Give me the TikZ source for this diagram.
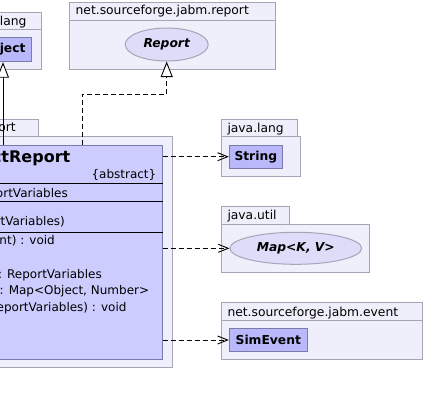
\documentclass[tikz,border=0pt]{standalone}
\usepackage{fontspec}
\setmainfont{DejaVu Sans}
\usetikzlibrary{calc,positioning,arrows.meta,shapes.geometric}
\definecolor{pkgfill}{RGB}{239,239,251}
\definecolor{pkgdraw}{RGB}{165,165,182}
\definecolor{absfill}{RGB}{204,204,255}
\definecolor{clsfill}{RGB}{184,184,250}
\definecolor{clsdraw}{RGB}{122,122,172}
\definecolor{ifcfill}{RGB}{221,221,250}
\tikzset{
  pkg/.style={draw=pkgdraw, fill=pkgfill, line width=1pt},
  pkgname/.style={inner sep=0pt, font=\fontsize{12.3}{14}\selectfont},
  cls/.style={draw=clsdraw, fill=clsfill, line width=1pt, inner sep=0pt,
    font=\fontsize{12.3}{14}\selectfont\bfseries},
  ifc/.style={ellipse, draw=pkgdraw, fill=ifcfill, line width=1pt, inner sep=0pt,
    font=\fontsize{12.3}{14}\selectfont\bfseries\itshape},
  member/.style={anchor=base east, inner sep=0pt, font=\fontsize{12}{14}\selectfont},
  dep/.style={line width=0.9pt, dash pattern=on 5pt off 3pt,
    -{Straight Barb[length=10pt,width=8pt]}},
  gen/.style={line width=0.9pt, -{Triangle[length=15.5pt,width=12pt,fill=white]}},
}

\begin{document}
\begin{tikzpicture}[x=1pt,y=-1pt]
  \useasboundingbox (0,0) rectangle (425,405);
  \clip (0,0) rectangle (425,405);
  % packages
  \draw[pkg] (-40,12.5) rectangle (41.5,29);
  \draw[pkg] (-40,29) rectangle (41.5,69);
  \node[pkgname, anchor=base east] (langpkgL) at (26.7,25) {java.lang};
  \draw[pkg] (69.3,2.5) rectangle (275,69);
  \draw[pkgdraw, line width=1pt] (69.3,20.5) -- (275,20.5);
  \node[pkgname, anchor=base west] (reportpkg) at (75.5,14.5) {net.sourceforge.jabm.report};
  \draw[pkg] (-200,119.5) rectangle (38.3,136);
  \draw[pkg] (-200,136) rectangle (172,367);
  \node[pkgname, anchor=base east] (mainpkg) at (16,131.5) {net.sourceforge.jabm.report};
  \draw[pkg] (221,119.3) rectangle (297.3,136);
  \draw[pkg] (221,136) rectangle (300.3,176);
  \node[pkgname, anchor=base west] (langpkgR) at (227.3,132.3) {java.lang};
  \draw[pkg] (221,206.7) rectangle (289.3,224.3);
  \draw[pkg] (221,224.3) rectangle (369.3,272.3);
  \node[pkgname, anchor=base west] (utilpkg) at (227.3,219.5) {java.util};
  \draw[pkg] (221,302.3) rectangle (422.3,359.3);
  \draw[pkgdraw, line width=1pt] (221,320.7) -- (422.3,320.7);
  \node[pkgname, anchor=base west] (eventpkg) at (227.3,316) {net.sourceforge.jabm.event};

  % classes
  \node[cls, minimum width=57.4pt, minimum height=24.4pt] (object) at (3,49.5) {Object};
  \node[ifc, minimum width=83pt, minimum height=33pt] (report) at (166.7,44.5) {Report};
  \node[cls, minimum width=53pt, minimum height=23.3pt] (string) at (255.8,156.7) {String};
  \node[ifc, minimum width=131.7pt, minimum height=32pt] (map) at (295.8,248.3) {Map<K, V>};
  \node[cls, minimum width=78pt, minimum height=23.4pt] (simevent) at (268.3,340) {SimEvent};

  \node[draw=clsdraw, fill=absfill, line width=1pt, minimum width=310.7pt,
    minimum height=213.5pt, inner sep=0pt] (abstractreport) at (7.35,252.25) {};
  \foreach \y in {183.3,201,232.3}
    \draw[line width=1pt] (abstractreport.west |- 0,\y) -- (abstractreport.east |- 0,\y);
  \node[member, font=\fontsize{16}{18}\selectfont\bfseries] (absname) at (70.5,162) {AbstractReport};
  \node[member] (abstag) at (156.5,178) {\{abstract\}};
  \node[member] (attr) at (68,197) {reportVariables : ReportVariables};
  \node[member] (ctor) at (65,225.8) {AbstractReport(ReportVariables)};
  \node[member] (mevent) at (55,244.5) {eventOccurred(SimEvent event) : void};
  \node[member] (mgetrv) at (102,278.3) {getReportVariables() : ReportVariables};
  \node[member] (mbind) at (149.3,294.8) {getVariableBindings() : Map<Object, Number>};
  \node[member] (msetrv) at (126.7,311) {setReportVariables(ReportVariables) : void};

  % connectors
  \coordinate (bend) at (82,94.3);
  \draw[gen] (abstractreport.north -| object.south) -- (object.south);
  \draw[gen, dash pattern=on 5pt off 3pt] (abstractreport.north -| bend) -- (bend) -| (report.south);
  \draw[dep] (abstractreport.east |- string.west) -- (string.west);
  \draw[dep] (abstractreport.east |- map.west) -- (map.west);
  \draw[dep] (abstractreport.east |- simevent.west) -- (simevent.west);
\end{tikzpicture}
\end{document}
